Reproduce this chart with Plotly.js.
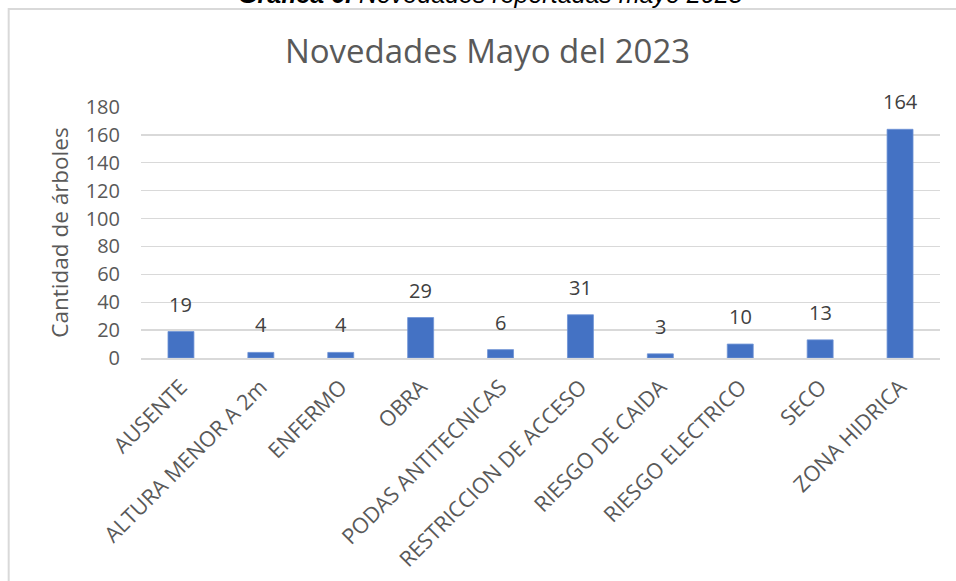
<!DOCTYPE html>
<html>
<head>
<meta charset="utf-8">
<script src="https://cdn.plot.ly/plotly-3.0.1.min.js"></script>
<style>html,body{margin:0;padding:0;background:#fff;}#chart{width:956px;height:581px;}</style>
</head>
<body>
<div id="chart"></div>
<script>
const categories = ["AUSENTE","ALTURA MENOR A 2m","ENFERMO","OBRA","PODAS ANTITECNICAS","RESTRICCION DE ACCESO","RIESGO DE CAIDA","RIESGO ELECTRICO","SECO","ZONA HIDRICA"];
const values = [19, 4, 4, 29, 6, 31, 3, 10, 13, 164];
const yTicks = [0, 20, 40, 60, 80, 100, 120, 140, 160, 180];
const chartTitle = "Novedades Mayo del 2023";
const yTitle = "Cantidad de árboles";
const captionBold = "Gráfica 6.";
const captionRest = " Novedades reportadas mayo 2023";

const FONT = "Open Sans, Noto Sans, sans-serif";

const trace = {
  type: "bar",
  x: categories,
  y: values,
  marker: {color: "#4472C4", line: {color: "#6f93d6", width: 0.8}},
  hoverinfo: "none"
};

const labelAnns = categories.map((c, i) => ({
  x: c, y: values[i], xref: "x", yref: "y",
  text: String(values[i]), showarrow: false,
  yanchor: "bottom", yshift: 12,
  font: {family: FONT, size: 20, color: "#404040"}
}));

const layout = {
  width: 956, height: 581,
  margin: {l: 141, r: 16, t: 107, b: 223},
  paper_bgcolor: "#ffffff", plot_bgcolor: "#ffffff",
  showlegend: false,
  bargap: 0.675,
  title: {
    text: chartTitle,
    x: 0.51, xanchor: "center",
    y: 0.912, yanchor: "middle",
    font: {family: FONT, size: 33, color: "#595959"}
  },
  xaxis: {
    type: "category",
    tickangle: -45,
    tickfont: {family: FONT, size: 21.5, color: "#595959"},
    ticklabelstandoff: 6,
    showgrid: false,
    showline: true, linecolor: "#d9d9d9", linewidth: 2,
    ticks: "", fixedrange: true
  },
  yaxis: {
    range: [0, 180],
    tickvals: yTicks,
    ticktext: yTicks.map(String),
    tickfont: {family: FONT, size: 20, color: "#595959"},
    ticklabelstandoff: 20,
    showgrid: true, gridcolor: "#d9d9d9", gridwidth: 1.3,
    zeroline: false, showline: false,
    ticks: "", ticklen: 0,
    title: {text: yTitle, font: {family: FONT, size: 22.5, color: "#595959"}, standoff: 10},
    fixedrange: true
  },
  shapes: [{
    type: "rect", xref: "paper", yref: "paper",
    x0: -0.1656, x1: 1.1, y0: -1.2, y1: 1.3904,
    line: {color: "#d9d9d9", width: 2}, fillcolor: "rgba(0,0,0,0)", layer: "below"
  }],
  annotations: labelAnns.concat([{
    xref: "paper", yref: "paper", x: 0.4375, y: 1.386,
    xanchor: "center", yanchor: "bottom", showarrow: false,
    text: "<b><i>" + captionBold + "</i></b><i>" + captionRest + "</i>",
    font: {family: "Liberation Sans, Arial, sans-serif", size: 25, color: "#000000"}
  }])
};

Plotly.newPlot("chart", [trace], layout, {displayModeBar: false, staticPlot: true});
</script>
</body>
</html>
